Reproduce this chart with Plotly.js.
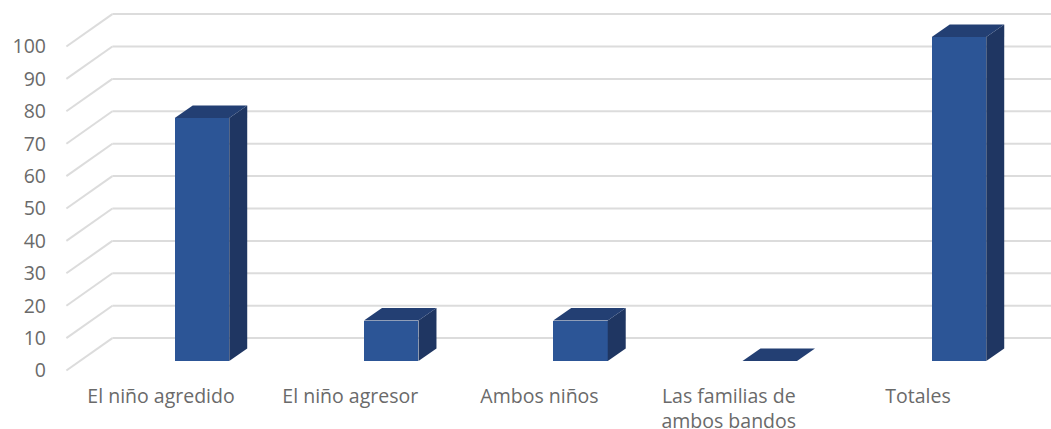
<!DOCTYPE html>
<html><head><meta charset="utf-8">
<script src="https://cdn.plot.ly/plotly-3.0.1.min.js"></script>
<style>html,body{margin:0;padding:0;background:#fff}#c{width:1051px;height:429px}</style>
</head><body><div id="c"></div>
<script>
var categories = ["El niño agredido","El niño agresor","Ambos niños","Las familias de<br>ambos bandos","Totales"];
var values = [75,12.5,12.5,0,100];
var yTicks = [0,10,20,30,40,50,60,70,80,90,100];

var colFront="#2C5596", colSide="#1F3662", colTop="#233F73", colGrid="#DCDCDC", colText="#6A6A6A";

// projection constants, in axis units
var plane={dx:0.243,dy:10};      // depth of the back wall
var bar={shift:0.2166,base:2.93,width:0.288,dx:0.095,dy:3.86};

var xIdx=categories.map(function(_,i){return i;});
var barX=xIdx.map(function(i){return i+bar.shift;});

var traces=[{type:"bar",x:barX,y:values,base:values.map(function(){return bar.base;}),width:bar.width,
  marker:{color:colFront,line:{width:0}},hoverinfo:"skip",showlegend:false}];
values.forEach(function(v,i){
  var l=barX[i]-bar.width/2,r=barX[i]+bar.width/2,b=bar.base,t=bar.base+v;
  traces.push({type:"scatter",mode:"lines",fill:"toself",fillcolor:colSide,line:{width:0,color:colSide},
    x:[r,r+bar.dx,r+bar.dx,r,r],y:[b,b+bar.dy,t+bar.dy,t,b],hoverinfo:"skip",showlegend:false});
  traces.push({type:"scatter",mode:"lines",fill:"toself",fillcolor:colTop,line:{width:0,color:colTop},
    x:[l,l+bar.dx,r+bar.dx,r,l],y:[t,t+bar.dy,t+bar.dy,t,t],hoverinfo:"skip",showlegend:false});
});

// pixel fit of the axes
var L=52,R=1051,T=0,B=382,pxPerCat=189.25,pxPerVal=3.24,cat0=161,val0=370.5;
var xr=[(L-cat0)/pxPerCat,(R-cat0)/pxPerCat], yr=[(val0-B)/pxPerVal,(val0-T)/pxPerVal];
var gridL=-0.5;
var shapes=[];
yTicks.forEach(function(v){
  shapes.push({type:"line",layer:"below",xref:"x",yref:"y",x0:gridL,y0:v,x1:gridL+plane.dx,y1:v+plane.dy,line:{color:colGrid,width:2}});
  shapes.push({type:"line",layer:"below",xref:"x",yref:"y",x0:gridL+plane.dx,y0:v+plane.dy,x1:xr[1],y1:v+plane.dy,line:{color:colGrid,width:2}});
});

var font={family:"'Open Sans','Noto Sans',sans-serif",size:19.5,color:colText};
Plotly.newPlot("c",traces,{
  width:1051,height:429,margin:{l:L,r:1051-R,t:T,b:429-B,pad:0},
  paper_bgcolor:"#fff",plot_bgcolor:"#fff",showlegend:false,bargap:0,shapes:shapes,font:font,
  xaxis:{range:xr,tickmode:"array",tickvals:xIdx,ticktext:categories,showgrid:false,zeroline:false,showline:false,ticks:"",tickangle:0,tickfont:font,ticklabelstandoff:0,automargin:false},
  yaxis:{range:yr,tickmode:"array",tickvals:yTicks,ticktext:yTicks.map(String),showgrid:false,zeroline:false,showline:false,ticks:"",tickfont:font,ticklabelstandoff:5,automargin:false}
},{displayModeBar:false,staticPlot:true});
</script></body></html>
